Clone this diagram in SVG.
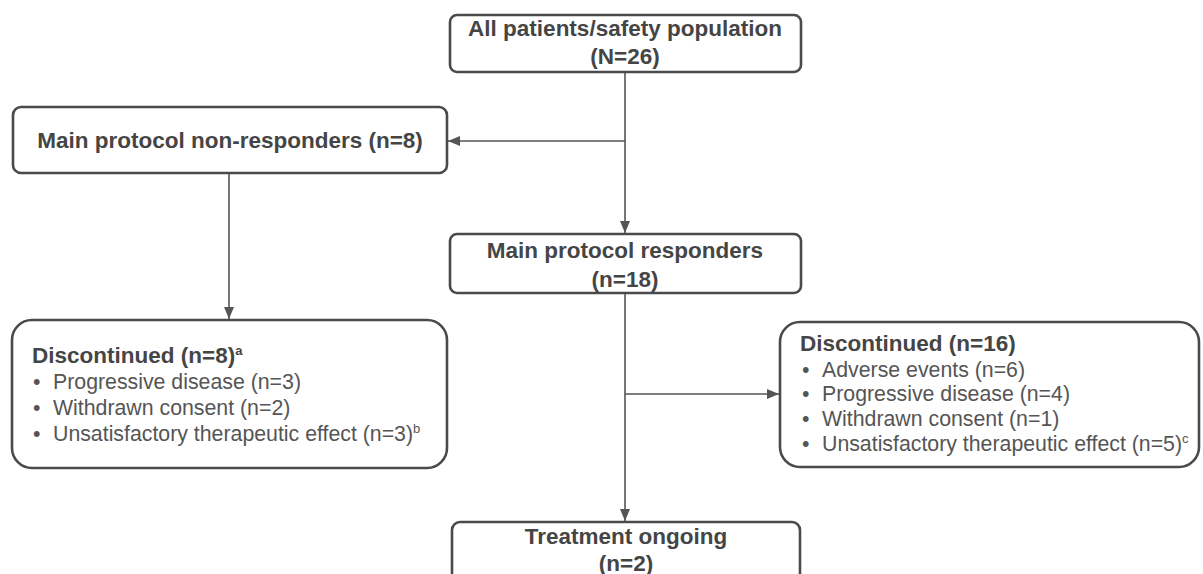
<svg xmlns="http://www.w3.org/2000/svg" width="1203" height="574" viewBox="0 0 1203 574">
<style>
.box{fill:#fff;stroke:#4a4a4a;stroke-width:2.6}
.t{font-family:"Liberation Sans",Arial,sans-serif;fill:#4d4d4d}
.b{font-weight:bold;font-size:22.5px;fill:#454545}
.r{font-size:21.3px;fill:#555}
.c{text-anchor:middle}
.sup{font-size:13px}
.ln{stroke:#555;stroke-width:1.6;fill:none}
</style>
<defs>
<marker id="ah" viewBox="0 0 12 10" refX="12" refY="5" markerWidth="12" markerHeight="10" markerUnits="userSpaceOnUse" orient="auto">
<path d="M0,0 L12,5 L0,10 z" fill="#555"/>
</marker>
</defs>
<rect width="1203" height="574" fill="#fff"/>
<g id="connectors">
<line class="ln" x1="625" y1="72" x2="625" y2="233" marker-end="url(#ah)"/>
<line class="ln" x1="625" y1="141" x2="448" y2="141" marker-end="url(#ah)"/>
<line class="ln" x1="229" y1="173" x2="229" y2="319" marker-end="url(#ah)"/>
<line class="ln" x1="625" y1="293" x2="625" y2="521" marker-end="url(#ah)"/>
<line class="ln" x1="625" y1="394" x2="779" y2="394" marker-end="url(#ah)"/>
</g>
<g id="all-patients">
<rect class="box" x="450" y="15" width="351" height="57" rx="7"/>
<text class="t b c" x="625" y="36">All patients/safety population</text>
<text class="t b c" x="625" y="64">(N=26)</text>
</g>
<g id="non-responders">
<rect class="box" x="13" y="107" width="434" height="66" rx="8"/>
<text class="t b c" x="230" y="148">Main protocol non-responders (n=8)</text>
</g>
<g id="responders">
<rect class="box" x="450" y="234" width="351" height="59" rx="7"/>
<text class="t b c" x="625" y="258">Main protocol responders</text>
<text class="t b c" x="625" y="287">(n=18)</text>
</g>
<g id="discontinued-left">
<rect class="box" x="12" y="320" width="435" height="148" rx="20"/>
<text class="t b" x="32" y="363">Discontinued (n=8)<tspan class="sup" dy="-8">a</tspan></text>
<text class="t r" x="33" y="389">•</text>
<text class="t r" x="53" y="389">Progressive disease (n=3)</text>
<text class="t r" x="33" y="415">•</text>
<text class="t r" x="53" y="415">Withdrawn consent (n=2)</text>
<text class="t r" x="33" y="441">•</text>
<text class="t r" x="53" y="441">Unsatisfactory therapeutic effect (n=3)<tspan class="sup" dy="-8">b</tspan></text>
</g>
<g id="discontinued-right">
<rect class="box" x="780" y="322" width="419" height="145" rx="20"/>
<text class="t b" x="800" y="351">Discontinued (n=16)</text>
<text class="t r" x="802" y="377">•</text>
<text class="t r" x="822" y="377">Adverse events (n=6)</text>
<text class="t r" x="802" y="401">•</text>
<text class="t r" x="822" y="401">Progressive disease (n=4)</text>
<text class="t r" x="802" y="426">•</text>
<text class="t r" x="822" y="426">Withdrawn consent (n=1)</text>
<text class="t r" x="802" y="451">•</text>
<text class="t r" x="822" y="451">Unsatisfactory therapeutic effect (n=5)<tspan class="sup" dy="-8">c</tspan></text>
</g>
<g id="treatment-ongoing">
<rect class="box" x="452" y="522" width="348" height="70" rx="8"/>
<text class="t b c" x="626" y="544">Treatment ongoing</text>
<text class="t b c" x="626" y="571">(n=2)</text>
</g>
</svg>
